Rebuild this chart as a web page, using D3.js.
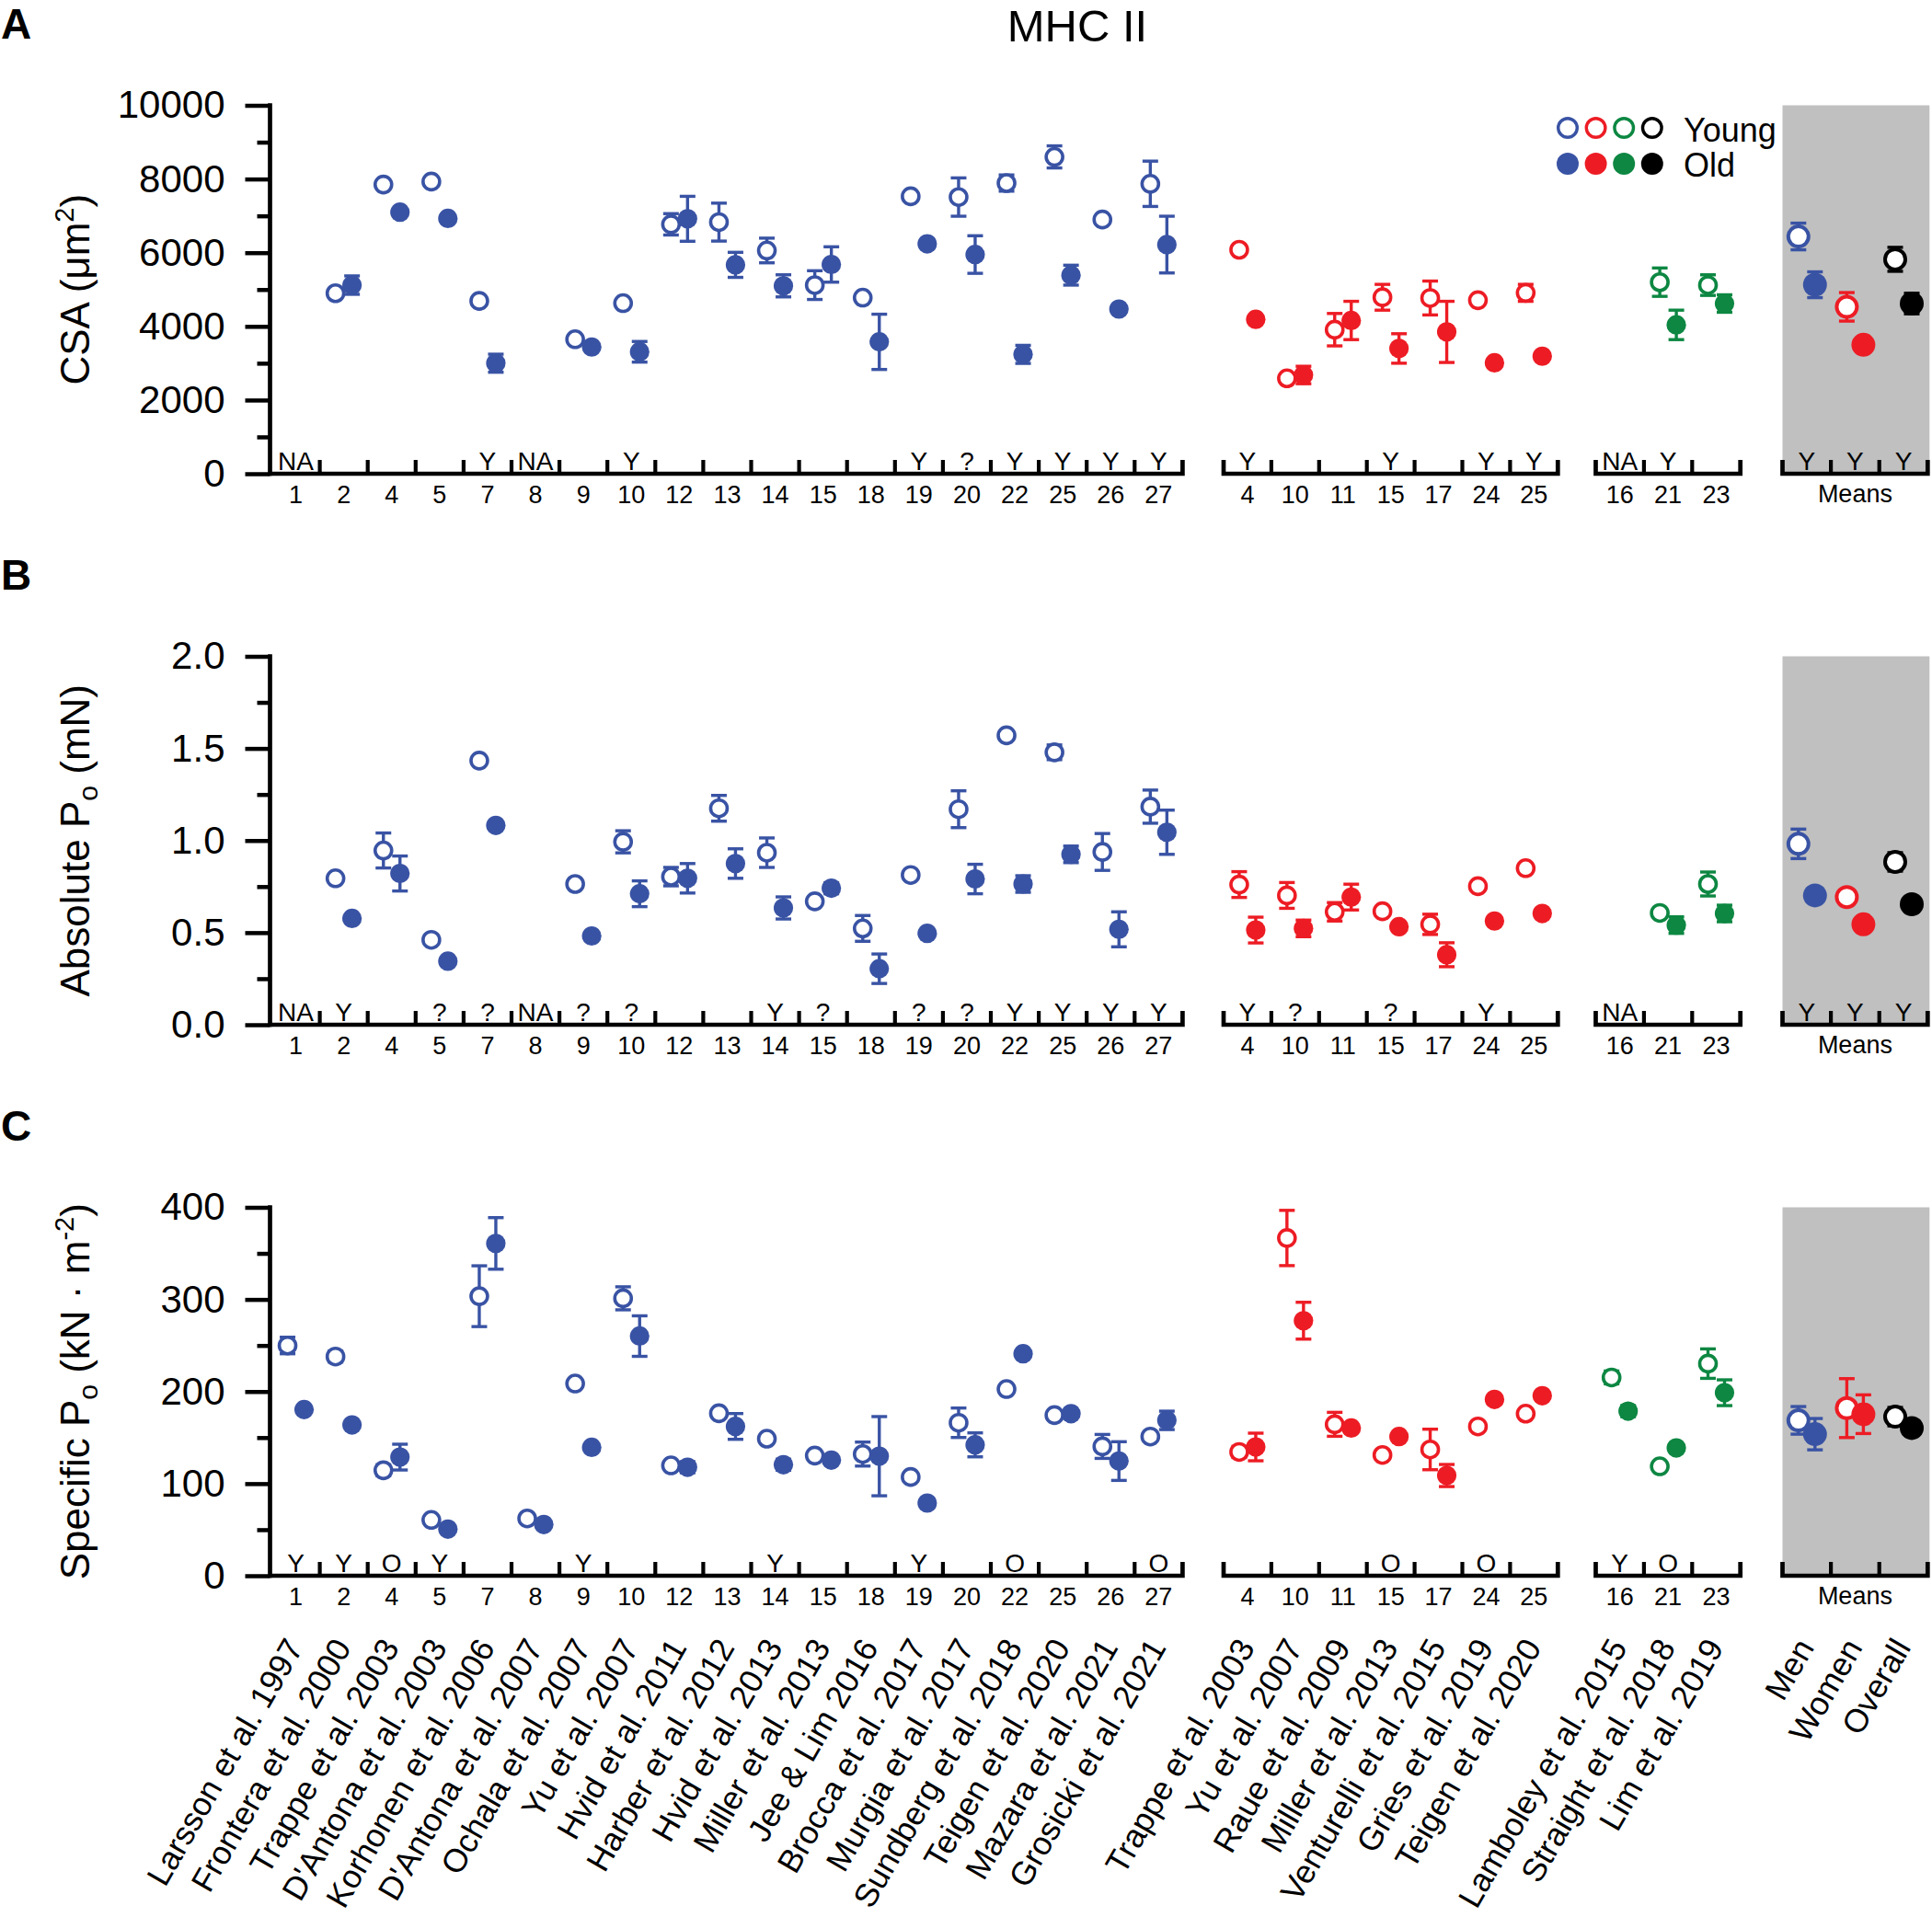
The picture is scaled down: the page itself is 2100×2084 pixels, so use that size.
<!DOCTYPE html>
<html><head><meta charset="utf-8">
<script src="https://cdn.jsdelivr.net/npm/d3@7"></script>
<style>
body{margin:0;background:#fff}
svg{display:block}
text{font-family:Arial,"Liberation Sans",sans-serif;fill:#000}
</style>
</head><body>
<svg id="chart" width="2100" height="2084"></svg>
<script>
// ---------------- DATA ----------------
const categoryKeys = ["1","2","4","5","7","8","9","10","12","13","14","15","18","19","20","22","25","26","27",
  "4","10","11","15","17","24","25",
  "16","21","23",
  "Men","Women","Overall"];
const categoryGroup = [0,0,0,0,0,0,0,0,0,0,0,0,0,0,0,0,0,0,0, 1,1,1,1,1,1,1, 2,2,2, 3,3,3];
const studyNames = ["Larsson et al. 1997","Frontera et al. 2000","Trappe et al. 2003","D'Antona et al. 2003",
  "Korhonen et al. 2006","D'Antona et al. 2007","Ochala et al. 2007","Yu et al. 2007","Hvid et al. 2011",
  "Harber et al. 2012","Hvid et al. 2013","Miller et al. 2013","Jee & Lim 2016","Brocca et al. 2017",
  "Murgia et al. 2017","Sundberg et al. 2018","Teigen et al. 2020","Mazara et al. 2021","Grosicki et al. 2021",
  "Trappe et al. 2003","Yu et al. 2007","Raue et al. 2009","Miller et al. 2013","Venturelli et al. 2015",
  "Gries et al. 2019","Teigen et al. 2020",
  "Lamboley et al. 2015","Straight et al. 2018","Lim et al. 2019",
  "Men","Women","Overall"];
const groupColors = ["#3953a4","#ed1c24","#0d8742"];
const meanColors = ["#3953a4","#ed1c24","#000000"];

// Panel A: CSA (um^2)
const csaYoung    = [null,4900,7850,7930,4690,null,3650,4630,6770,6830,6060,5120,4780,7530,7510,7890,8600,6900,7870, 6080,2590,3910,4790,4770,4710,4910, null,5200,5120, 6440,4530,5820];
const csaYoungErr = [0,0,0,0,0,0,0,0,290,515,335,390,0,0,520,220,300,0,615, 0,0,440,350,460,0,230, 0,385,280, 362,387,325];
const csaOld      = [null,5120,7100,6930,3000,null,3440,3310,6920,5670,5100,5680,3580,6240,5950,3240,5390,4470,6220, 4190,2680,4160,3400,3850,3010,3190, null,4040,4620, 5130,3500,4620];
const csaOldErr   = [0,250,0,0,245,0,0,280,610,340,300,480,750,0,510,245,270,0,770, 0,237,520,400,830,0,0, 0,400,237, 350,0,280];
const csaNotes    = ["NA","","","","Y","NA","","Y","","","","","","Y","?","Y","Y","Y","Y", "Y","","","Y","","Y","Y", "NA","Y","", "Y","Y","Y"];

// Panel B: Absolute Po (mN)
const poYoung    = [null,0.795,0.946,0.461,1.434,null,0.764,0.993,0.804,1.175,0.934,0.670,0.523,0.813,1.170,1.571,1.479,0.938,1.184, 0.761,0.702,0.613,0.616,0.545,0.752,0.850, null,0.607,0.764, 0.982,0.693,0.884];
const poYoungErr = [0,0,0.095,0,0,0,0,0.06,0.05,0.07,0.08,0,0.07,0,0.1,0,0.04,0.1,0.09, 0.07,0.07,0.05,0,0.055,0,0.025, 0,0,0.065, 0.08,0,0.05];
const poOld      = [null,0.577,0.821,0.345,1.082,null,0.482,0.711,0.795,0.875,0.634,0.741,0.304,0.496,0.791,0.764,0.925,0.518,1.045, 0.514,0.523,0.693,0.532,0.380,0.563,0.604, null,0.541,0.604, 0.702,0.545,0.654];
const poOldErr   = [0,0,0.095,0,0,0,0,0.07,0.08,0.08,0.06,0.03,0.08,0,0.08,0.045,0.045,0.095,0.12, 0.07,0.045,0.07,0,0.065,0,0, 0,0.045,0.045, 0.04,0,0];
const poNotes    = ["NA","Y","","?","?","NA","?","?","","","Y","?","","?","?","Y","Y","Y","Y", "Y","?","","?","","Y","", "NA","","", "Y","Y","Y"];

// Panel C: Specific Po (kN m^-2)
const spYoung    = [250,238,114.5,60.6,303.5,62.2,208.7,301.2,119.8,176.4,148.8,130.5,132.1,107.2,166.1,202.7,174.4,140.4,151.1, 134.4,366.7,164.4,131.1,137.1,162.1,176.0, 215.3,118.8,230.3, 168.7,182.0,172.7];
const spYoungErr = [9,6,6,0,33,0,0,12.5,0,0,0,0,13,0,16,0,0,13,0, 6,30,13,0,22,0,0, 7,0,16, 15,32,10];
const spOld      = [180.4,163.7,128.8,50.6,360.8,55.6,139.4,260.2,117.8,162.1,120.5,125.5,129.8,78.9,142.1,241.0,176.0,124.5,168.7, 139.8,276.9,160.4,151.1,108.8,191.4,195.4, 178.7,138.8,198.7, 153.7,175.4,160.4];
const spOldErr   = [0,0,14,0,28,0,0,22,6,14,6,0,43,0,13,0,0,21,10, 15,20,0,0,12,0,0, 6,0,14, 17,21,8];
const spNotes    = ["Y","Y","O","Y","","","Y","","","","Y","","","Y","","O","","","O", "","","","O","","O","", "Y","O","", "","",""];

const yTicksA = [0,2000,4000,6000,8000,10000];
const yTicksB = [0,0.5,1.0,1.5,2.0];
const yTicksC = [0,100,200,300,400];

// ---------------- LAYOUT ----------------
const svg = d3.select("#chart");
const axisX = 293.5;
const panelTops = [114.5, 713.5, 1312.5];
const panelH = 400.5;
const groupLayout = [{start:295.5, band:52.1},{start:1330, band:51.9},{start:1734.5, band:52.4},{start:1937.5, band:52.6}];

const xScales = groupLayout.map((gl,g)=>{
  const idx = categoryKeys.map((k,i)=>i).filter(i=>categoryGroup[i]===g);
  return d3.scaleBand().domain(idx).range([gl.start, gl.start + idx.length*gl.band]).padding(0);
});
const xc = i => { const s = xScales[categoryGroup[i]]; return s(i) + s.bandwidth()/2; };
const colorOf = i => categoryGroup[i] < 3 ? groupColors[categoryGroup[i]] : meanColors[i - categoryGroup.indexOf(3)];

const panels = [
  {letter:"A", ticks:yTicksA, minor:1000, fmt:d3.format("d"), young:csaYoung, youngErr:csaYoungErr, old:csaOld, oldErr:csaOldErr, notes:csaNotes, label:"csa"},
  {letter:"B", ticks:yTicksB, minor:0.25, fmt:d3.format(".1f"), young:poYoung, youngErr:poYoungErr, old:poOld, oldErr:poOldErr, notes:poNotes, label:"po"},
  {letter:"C", ticks:yTicksC, minor:50, fmt:d3.format("d"), young:spYoung, youngErr:spYoungErr, old:spOld, oldErr:spOldErr, notes:spNotes, label:"sp"}
];

// title
svg.append("text").attr("x",1171).attr("y",45).attr("text-anchor","middle").attr("font-size",49).text("MHC II");

panels.forEach((p,pi)=>{
  const top = panelTops[pi], bottom = top + panelH;
  const yMax = p.ticks[p.ticks.length-1];
  const y = d3.scaleLinear().domain([0,yMax]).range([bottom, top]);
  const g = svg.append("g");

  // panel letter
  g.append("text").attr("x",1).attr("y",top-72.5).attr("font-size",46).attr("font-weight","bold").text(p.letter);

  // gray background for means
  const ms = xScales[3].range();
  g.append("rect").attr("x",ms[0]).attr("y",top).attr("width",ms[1]-ms[0]+2).attr("height",bottom-top).attr("fill","#c0c0c0");

  // y axis major
  const ax = d3.axisLeft(y).tickValues(p.ticks).tickFormat(p.fmt).tickSize(27).tickSizeOuter(0).tickPadding(22);
  const ga = g.append("g").attr("transform",`translate(${axisX},0)`).call(ax);
  ga.select(".domain").attr("stroke","#000").attr("stroke-width",4.7).attr("d",`M0,${bottom+2.3}V${top-2.3}`);
  ga.selectAll(".tick line").attr("stroke","#000").attr("stroke-width",4.5);
  ga.selectAll(".tick text").attr("font-size",42).attr("font-family","Arial, 'Liberation Sans', sans-serif").attr("fill","#000");
  // minor ticks
  const minorVals = d3.range(p.minor, yMax, p.minor*2);
  const axm = d3.axisLeft(y).tickValues(minorVals).tickFormat("").tickSize(14).tickSizeOuter(0);
  const gm = g.append("g").attr("transform",`translate(${axisX},0)`).call(axm);
  gm.select(".domain").remove();
  gm.selectAll(".tick line").attr("stroke","#000").attr("stroke-width",4.5);

  // x axis groups
  groupLayout.forEach((gl,gi)=>{
    const [r0,r1] = xScales[gi].range();
    const bw = xScales[gi].bandwidth();
    const n = xScales[gi].domain().length;
    let d;
    if (gi===0) d = `M${axisX},${bottom}H${r1}V${bottom-15}`;
    else d = `M${r0},${bottom-15}V${bottom}H${r1}V${bottom-15}`;
    g.append("path").attr("d",d).attr("fill","none").attr("stroke","#000").attr("stroke-width",4.7).attr("stroke-linejoin","miter");
    for (let k=1;k<n;k++){
      const xx = r0 + k*bw;
      g.append("line").attr("x1",xx).attr("x2",xx).attr("y1",bottom).attr("y2",bottom-15).attr("stroke","#000").attr("stroke-width",4.2);
    }
    if (gi===3){
      g.append("text").attr("x",(r0+r1)/2).attr("y",bottom+31).attr("text-anchor","middle").attr("font-size",27).text("Means");
    }
  });

  // category numbers + notes
  categoryKeys.forEach((k,i)=>{
    if (categoryGroup[i] < 3) {
      g.append("text").attr("x",xc(i)).attr("y",bottom+32).attr("text-anchor","middle").attr("font-size",27).text(k);
    }
    if (p.notes[i]) {
      g.append("text").attr("x",xc(i)).attr("y",bottom-4.5).attr("text-anchor","middle").attr("font-size",28).text(p.notes[i]);
    }
  });

  // data
  const drawPoint = (i, v, e, isOld) => {
    if (v===null || v===undefined) return;
    const isMean = categoryGroup[i]===3;
    const cx = xc(i) + (isOld ? 9 : -9);
    const col = colorOf(i);
    if (e > 0) {
      const y1 = y(v+e), y2 = y(v-e);
      g.append("line").attr("x1",cx).attr("x2",cx).attr("y1",y1).attr("y2",y2).attr("stroke",col).attr("stroke-width",3.4);
      [y1,y2].forEach(yy=> g.append("line").attr("x1",cx-8.5).attr("x2",cx+8.5).attr("y1",yy).attr("y2",yy).attr("stroke",col).attr("stroke-width",3.4));
    }
    if (isOld) {
      g.append("circle").attr("cx",cx).attr("cy",y(v)).attr("r",isMean?13:10.6).attr("fill",col);
    } else {
      g.append("circle").attr("cx",cx).attr("cy",y(v)).attr("r",isMean?11:9).attr("fill","#fff").attr("stroke",col).attr("stroke-width",isMean?4:3.6);
    }
  };
  categoryKeys.forEach((k,i)=>{
    drawPoint(i, p.young[i], p.youngErr[i], false);
    drawPoint(i, p.old[i], p.oldErr[i], true);
  });

  // y-axis label
  const cy = (top+bottom)/2;
  const t = g.append("text").attr("transform",`translate(97,${cy}) rotate(-90)`).attr("text-anchor","middle").attr("font-size",44);
  if (p.label==="csa") {
    t.append("tspan").text("CSA (\u03bcm");
    t.append("tspan").attr("font-size",29).attr("dy",-17).text("2");
    t.append("tspan").attr("dy",17).text(")");
  } else if (p.label==="po") {
    t.append("tspan").text("Absolute P");
    t.append("tspan").attr("font-size",30).attr("dy",9).text("o");
    t.append("tspan").attr("dy",-9).text(" (mN)");
  } else {
    t.append("tspan").text("Specific P");
    t.append("tspan").attr("font-size",30).attr("dy",9).text("o");
    t.append("tspan").attr("dy",-9).text(" (kN \u00b7 m");
    t.append("tspan").attr("font-size",29).attr("dy",-17).text("-2");
    t.append("tspan").attr("dy",17).text(")");
  }
});

// legend
const legendColors = [groupColors[0], groupColors[1], groupColors[2], "#000000"];
legendColors.forEach((c,k)=>{
  const lx = 1704 + k*30.6;
  svg.append("circle").attr("cx",lx).attr("cy",139).attr("r",10.3).attr("fill","#fff").attr("stroke",c).attr("stroke-width",3.4);
  svg.append("circle").attr("cx",lx).attr("cy",178).attr("r",12).attr("fill",c);
});
svg.append("text").attr("x",1830).attr("y",154).attr("font-size",36).text("Young");
svg.append("text").attr("x",1830).attr("y",191.5).attr("font-size",36).text("Old");

// rotated study labels
studyNames.forEach((name,i)=>{
  svg.append("text").attr("transform",`translate(${xc(i)+9},1791) rotate(-60)`).attr("text-anchor","end").attr("font-size",35.5).text(name);
});
</script>
</body></html>
